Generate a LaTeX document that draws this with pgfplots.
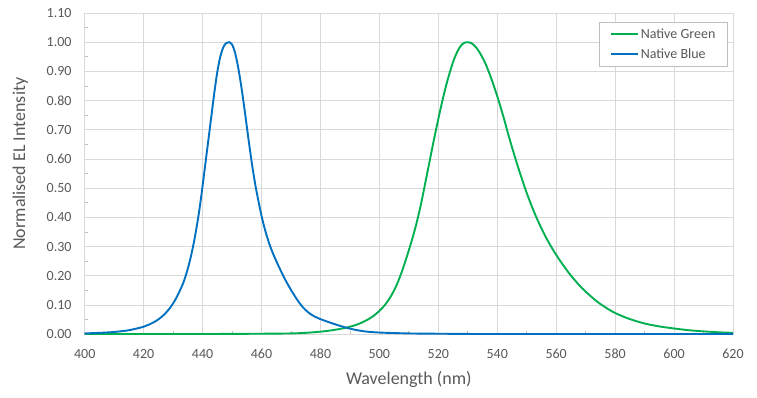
\documentclass[border=0pt]{standalone}
\usepackage{pgfplots}
\pgfplotsset{compat=1.18}
\usepackage{fontspec}
\setmainfont{Carlito}

\definecolor{gridgray}{HTML}{D9D9D9}
\definecolor{framegray}{HTML}{BFBFBF}
\definecolor{textgray}{HTML}{595959}
\definecolor{nativegreen}{HTML}{00B050}
\definecolor{nativeblue}{HTML}{0070C0}

% Electroluminescence spectra, normalised to peak
\pgfplotstableread{
lambda I
400 0.001
420 0.001
440 0.001
460 0.002
470 0.003
475 0.005
480 0.009
484 0.014
488 0.021
490 0.026
492 0.032
494 0.040
496 0.050
498 0.063
500 0.080
502 0.102
504 0.132
506 0.172
508 0.225
510 0.288
512 0.357
514 0.440
516 0.540
517 0.590
518 0.641
519 0.690
520 0.737
521 0.783
522 0.826
523 0.865
524 0.900
525 0.932
526 0.958
527 0.978
528 0.992
529 0.999
530 1.000
531 0.998
532 0.991
533 0.980
534 0.965
535 0.947
536 0.927
538 0.875
540 0.815
542 0.748
544 0.675
546 0.607
548 0.543
550 0.484
552 0.431
554 0.384
556 0.342
558 0.305
560 0.272
562 0.242
564 0.214
566 0.189
568 0.166
570 0.146
572 0.128
574 0.111
576 0.097
578 0.084
580 0.073
582 0.064
585 0.052
590 0.037
595 0.027
600 0.020
605 0.014
610 0.010
615 0.007
620 0.005
}\greentable

\pgfplotstableread{
lambda I
400 0.003
405 0.005
410 0.008
415 0.014
420 0.026
423 0.039
425 0.051
427 0.068
429 0.091
431 0.123
433 0.165
434 0.192
435 0.225
436 0.265
437 0.312
438 0.368
439 0.432
440 0.508
441 0.588
442 0.668
443 0.748
444 0.828
445 0.898
446 0.950
447 0.982
448 0.997
449 1.000
450 0.992
451 0.965
452 0.918
453 0.858
454 0.788
455 0.712
456 0.637
457 0.567
458 0.506
459 0.454
460 0.406
461 0.365
462 0.330
463 0.300
464 0.274
466 0.229
468 0.188
470 0.152
472 0.120
474 0.093
476 0.074
478 0.061
480 0.052
483 0.041
486 0.031
489 0.022
492 0.015
495 0.010
500 0.006
510 0.003
520 0.002
540 0.001
620 0.001
}\bluetable

\begin{document}
\begin{tikzpicture}
\path[use as bounding box] (-84.7pt,-62.7pt) rectangle (672.3pt,334.3pt);
\begin{axis}[
  scale only axis,
  width=648.3pt, height=321.3pt,
  xmin=400, xmax=620, ymin=0, ymax=1.1,
  xtick={400,420,...,620},
  ytick={0,0.1,0.2,0.3,0.4,0.5,0.6,0.7,0.8,0.9,1.0,1.1},
  minor x tick num=1, minor y tick num=1,
  tick pos=left, tick align=inside,
  major tick length=0pt, minor tick length=3.5pt,
  minor tick style={draw=framegray, line width=0.8pt},
  grid=major,
  major grid style={draw=gridgray, line width=0.9pt},
  axis line style={draw=gridgray, line width=0.9pt},
  /pgf/number format/assume math mode=true,
  ticklabel style={font=\fontsize{14}{16}\selectfont, text=textgray, inner sep=0pt},
  yticklabel={\pgfmathprintnumber[fixed,fixed zerofill,precision=2]{\tick}},
  xticklabel={\pgfmathprintnumber[fixed,precision=0]{\tick}},
  yticklabel style={anchor=east, xshift=-13pt},
  xticklabel style={anchor=center, yshift=-19.4pt},
  xlabel={Wavelength (nm)},
  ylabel={Normalised EL Intensity},
  label style={font=\fontsize{18}{20}\selectfont, text=textgray},
  xlabel style={at={([yshift=-50pt]axis description cs:0.5,0)}, anchor=base},
  ylabel style={at={([xshift=-64.4pt]axis description cs:0,0.531)}, anchor=center},
  legend style={
    at={([xshift=-4.7pt,yshift=-8.7pt]axis description cs:1,1)},
    anchor=north east,
    draw=framegray, line width=0.9pt, fill=white,
    font=\fontsize{14}{16}\selectfont, text=textgray,
    inner xsep=11pt, inner ysep=5pt,
    row sep=6pt,
    nodes={inner sep=1.5pt},
  },
  legend cell align=left,
  legend image code/.code={\draw[#1] (0pt,0pt) -- (27pt,0pt);},
]
\addplot[nativegreen, line width=1.9pt, smooth, tension=0.5] table[x=lambda, y=I] {\greentable};
\addlegendentry{Native Green}
\addplot[nativeblue, line width=1.9pt, smooth, tension=0.5] table[x=lambda, y=I] {\bluetable};
\addlegendentry{Native Blue}
\end{axis}
\end{tikzpicture}
\end{document}
